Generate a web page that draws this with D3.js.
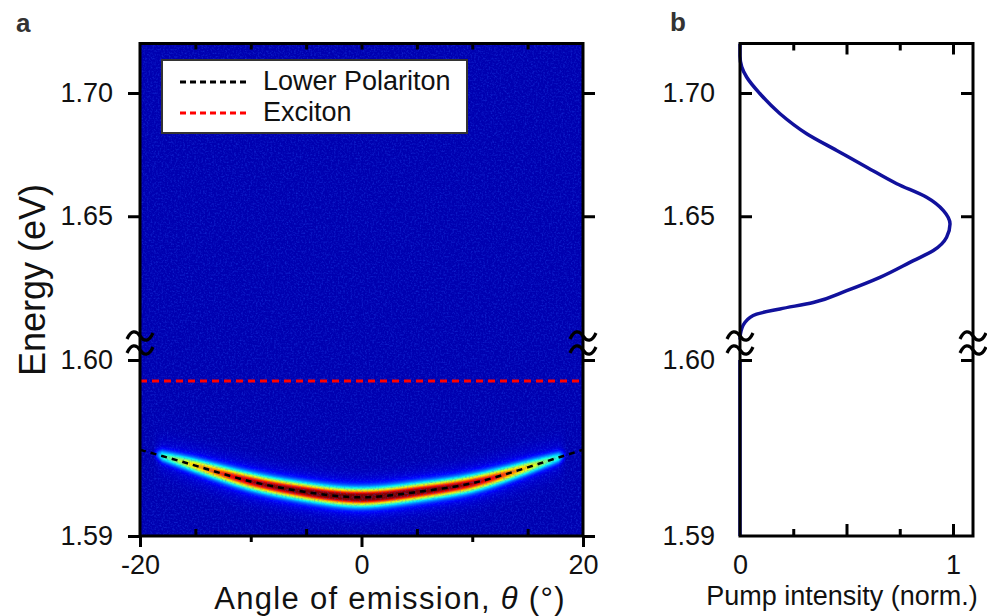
<!DOCTYPE html>
<html>
<head>
<meta charset="utf-8">
<script src="https://cdn.jsdelivr.net/npm/d3@7"></script>
<style>
  html, body { margin: 0; padding: 0; background: #fff; }
  svg { display: block; font-family: "Liberation Sans", Arial, sans-serif; }
</style>
</head>
<body>
<svg id="chart" width="987" height="616"></svg>
<script>
// ---- Panel a: angle-resolved emission ----
const angles = [-20, -15, -10, -5, 0, 5, 10, 15, 20];
const lowerPolariton = [1.5949, 1.5940, 1.5931, 1.5925, 1.5922, 1.5925, 1.5930, 1.5939, 1.5949];
const excitonEnergy = 1.5988;
// peak colour value of the emission band along the dispersion
const bandAngles = [-20, -18.8, -18, -15, -12, -10, -5, 0, 5, 10, 12, 15, 17.8, 18.5, 20];
const bandPeak   = [0, 0, 0.34, 0.58, 0.74, 0.82, 0.90, 0.95, 0.90, 0.82, 0.74, 0.55, 0.32, 0, 0];
const angleLabelTicks = [-20, 0, 20];
const angleMidTicks = [-10, 10];
const angleMinorTicks = [-15, -5, 5, 15];
const energyTicksUpper = [1.65, 1.70];
const energyTicksLower = [1.59, 1.60];
const legendNames = ["Lower Polariton", "Exciton"];
const legendColors = ["#000000", "#ff0000"];

// ---- Panel b: pump spectrum ----
const pumpEnergy = [1.7200, 1.7150, 1.7106, 1.7065, 1.6997, 1.6916, 1.6835, 1.6767, 1.6699,
  1.6632, 1.6577, 1.6523, 1.6469, 1.6415, 1.6361, 1.6320, 1.6252, 1.6198, 1.6150, 1.6124,
  1.6103, 1.6069, 1.6022, 1.6000];
const pumpIntensity = [0, 0, 0.008, 0.031, 0.094, 0.188, 0.313, 0.454, 0.595,
  0.736, 0.876, 0.955, 0.986, 0.970, 0.908, 0.814, 0.657, 0.501, 0.344, 0.188,
  0.078, 0.023, 0.002, 0];
const pumpEnergyLow = [1.600, 1.590];
const pumpIntensityLow = [0, 0];
const pumpLabelTicks = [0, 1];
const pumpMajorTicks = [0.5, 1];
const pumpMinorTicks = [0.25, 0.75];

const svg = d3.select("#chart");
const FS = 27;
const plotTop = 43.5, plotBottom = 536;

// broken energy axis: upper and lower segments share the same pixel column
const yHigh = d3.scaleLinear().domain([1.60, 1.70]).range([339.5, 93]);
const yLow  = d3.scaleLinear().domain([1.59, 1.60]).range([plotBottom, 360]);
const xA = d3.scaleLinear().domain([-20, 20]).range([140, 583]);
const xB = d3.scaleLinear().domain([0, 1]).range([740, 953]);
const xBRight = 973;

// jet colour map
function jet(v) {
  const c = t => Math.max(0, Math.min(1, t));
  return [c(1.5 - Math.abs(4 * v - 3)), c(1.5 - Math.abs(4 * v - 2)), c(1.5 - Math.abs(4 * v - 1))];
}

const defs = svg.append("defs");
defs.append("clipPath").attr("id", "clipA").append("rect")
  .attr("x", xA(-20)).attr("y", plotTop).attr("width", xA(20) - xA(-20)).attr("height", plotBottom - plotTop);

// lower polariton curve (smooth), also used to place the emission band
const lpLine = d3.line().x(d => xA(d[0])).y(d => yLow(d[1])).curve(d3.curveNatural);
const lpData = angles.map((a, i) => [a, lowerPolariton[i]]);
const probe = svg.append("path").attr("d", lpLine(lpData)).attr("fill", "none").attr("stroke", "none");
const pNode = probe.node(), pLen = pNode.getTotalLength();
const sx = [], sy = [];
for (let s = 0; s <= 1200; s++) {
  const p = pNode.getPointAtLength(pLen * s / 1200);
  if (!sx.length || p.x > sx[sx.length - 1]) { sx.push(p.x); sy.push(p.y); }
}
probe.remove();
const lpYAt = d3.scaleLinear().domain(sx).range(sy).clamp(true);

// ---- heatmap ----
const peakAt = d3.scaleLinear().domain(bandAngles).range(bandPeak).clamp(true);
const hmW = Math.round(xA.range()[1] - xA.range()[0]);
const hmH = Math.round(plotBottom - plotTop);
const canvas = document.createElement("canvas");
canvas.width = hmW; canvas.height = hmH;
const ctx = canvas.getContext("2d");
const img = ctx.createImageData(hmW, hmH);
const bg = 0.048;
for (let i = 0; i < hmW; i++) {
  const X = xA.range()[0] + i + 0.5;
  const th = xA.invert(X);
  const lpY = lpYAt(X);
  const amp = peakAt(th);
  const sig = 3.0 + 2.9 * amp;
  for (let j = 0; j < hmH; j++) {
    const Y = plotTop + j + 0.5;
    const d = Y - lpY;
    let v = bg;
    if (amp > 0) {
      v += amp * Math.exp(-d * d / (2 * sig * sig)) + 0.12 * amp * Math.exp(-d * d / (2 * 12 * 12));
    }
    const col = jet(Math.min(v, 1));
    const k = (j * hmW + i) * 4;
    img.data[k] = col[0] * 255;
    img.data[k + 1] = col[1] * 255;
    img.data[k + 2] = col[2] * 255;
    img.data[k + 3] = 255;
  }
}
ctx.putImageData(img, 0, 0);
svg.append("image")
  .attr("x", xA.range()[0]).attr("y", plotTop)
  .attr("width", hmW).attr("height", hmH)
  .attr("preserveAspectRatio", "none")
  .attr("href", canvas.toDataURL());

// detector grain over the blue background
const grain = defs.append("filter").attr("id", "grain").attr("x", 0).attr("y", 0).attr("width", 1).attr("height", 1);
grain.append("feTurbulence").attr("type", "fractalNoise").attr("baseFrequency", 0.55).attr("numOctaves", 2).attr("seed", 3);
grain.append("feColorMatrix").attr("type", "matrix")
  .attr("values", "0 0 0 0 0.02  0 0 0 0 0.10  0 0 0 0 0.95  1.6 0 0 0 -0.72");
svg.append("rect").attr("clip-path", "url(#clipA)")
  .attr("x", xA(-20)).attr("y", plotTop).attr("width", xA(20) - xA(-20)).attr("height", plotBottom - plotTop)
  .attr("filter", "url(#grain)").attr("opacity", 0.55);

// exciton level
svg.append("line")
  .attr("x1", xA(-20)).attr("x2", xA(20))
  .attr("y1", yLow(excitonEnergy)).attr("y2", yLow(excitonEnergy))
  .attr("stroke", "#ff0000").attr("stroke-width", 3).attr("stroke-dasharray", "7,5");

// lower polariton fit
svg.append("path")
  .datum(lpData)
  .attr("fill", "none").attr("stroke", "#000").attr("stroke-width", 2.5)
  .attr("stroke-dasharray", "6,5")
  .attr("d", lpLine);

// legend
const lg = svg.append("g");
lg.append("rect").attr("x", 162).attr("y", 60).attr("width", 305).attr("height", 73)
  .attr("fill", "#fff").attr("stroke", "#333").attr("stroke-width", 2);
legendNames.forEach((n, i) => {
  const yy = 82 + i * 31;
  lg.append("line").attr("x1", 180).attr("x2", 248).attr("y1", yy).attr("y2", yy)
    .attr("stroke", legendColors[i]).attr("stroke-width", 3).attr("stroke-dasharray", "6,4");
  lg.append("text").attr("x", 263).attr("y", yy + 8).attr("font-size", FS).attr("fill", "#111").text(n);
});

// ---- axes helpers ----
function styleAxis(g) {
  g.select(".domain").remove();
  g.selectAll("line").attr("stroke", "#000").attr("stroke-width", 3);
  g.selectAll("text").attr("font-size", FS).attr("fill", "#111");
  g.attr("font-family", null).attr("font-size", null);
  return g;
}
const frame = (x0, x1) => svg.append("rect").attr("x", x0).attr("y", plotTop)
  .attr("width", x1 - x0).attr("height", plotBottom - plotTop)
  .attr("fill", "none").attr("stroke", "#000").attr("stroke-width", 3);

// Panel a axes (outward ticks on left/right/bottom)
frame(xA(-20), xA(20));
svg.append("g").attr("transform", `translate(${xA(-20)},0)`)
  .call(d3.axisLeft(yHigh).tickValues(energyTicksUpper).tickSize(12).tickPadding(15).tickFormat(d3.format(".2f")))
  .call(styleAxis);
svg.append("g").attr("transform", `translate(${xA(-20)},0)`)
  .call(d3.axisLeft(yLow).tickValues(energyTicksLower).tickSize(12).tickPadding(15).tickFormat(d3.format(".2f")))
  .call(styleAxis);
svg.append("g").attr("transform", `translate(${xA(20)},0)`)
  .call(d3.axisRight(yHigh).tickValues(energyTicksUpper).tickSize(12).tickFormat(""))
  .call(styleAxis);
svg.append("g").attr("transform", `translate(${xA(20)},0)`)
  .call(d3.axisRight(yLow).tickValues(energyTicksLower).tickSize(12).tickFormat(""))
  .call(styleAxis);
svg.append("g").attr("transform", `translate(0,${plotBottom})`)
  .call(d3.axisBottom(xA).tickValues(angleLabelTicks).tickSize(11).tickPadding(8).tickFormat(d => String(d)))
  .call(styleAxis);
svg.append("g").attr("transform", `translate(0,${plotBottom})`)
  .call(d3.axisBottom(xA).tickValues(angleMidTicks).tickSize(6).tickFormat(""))
  .call(styleAxis);
svg.append("g").attr("transform", `translate(0,${plotBottom})`)
  .call(d3.axisTop(xA).tickValues(angleMinorTicks).tickSize(7).tickFormat(""))
  .call(styleAxis);
svg.append("g").attr("transform", `translate(0,${plotTop})`)
  .call(d3.axisBottom(xA).tickValues(angleMinorTicks.concat(angleMidTicks, [0])).tickSize(6).tickFormat(""))
  .call(styleAxis);

// Panel b curve
const pumpLine = (ys) => d3.line().x(d => xB(d[0])).y(d => ys(d[1])).curve(d3.curveMonotoneY);
svg.append("path")
  .datum(pumpEnergy.map((e, i) => [pumpIntensity[i], e]))
  .attr("fill", "none").attr("stroke", "#11119c").attr("stroke-width", 3.5)
  .attr("stroke-linejoin", "round").attr("d", pumpLine(yHigh));
svg.append("path")
  .datum(pumpEnergyLow.map((e, i) => [pumpIntensityLow[i], e]))
  .attr("fill", "none").attr("stroke", "#11119c").attr("stroke-width", 3.5)
  .attr("d", pumpLine(yLow));

// Panel b axes (inward ticks)
frame(xB(0), xBRight);
svg.append("g").attr("transform", `translate(${xB(0)},0)`)
  .call(d3.axisLeft(yHigh).tickValues(energyTicksUpper).tickSize(0).tickPadding(25).tickFormat(d3.format(".2f")))
  .call(styleAxis);
svg.append("g").attr("transform", `translate(${xB(0)},0)`)
  .call(d3.axisLeft(yLow).tickValues(energyTicksLower).tickSize(0).tickPadding(25).tickFormat(d3.format(".2f")))
  .call(styleAxis);
svg.append("g").attr("transform", `translate(${xB(0)},0)`)
  .call(d3.axisRight(yHigh).tickValues(energyTicksUpper).tickSize(12).tickFormat(""))
  .call(styleAxis);
svg.append("g").attr("transform", `translate(${xB(0)},0)`)
  .call(d3.axisRight(yLow).tickValues([1.60]).tickSize(12).tickFormat(""))
  .call(styleAxis);
svg.append("g").attr("transform", `translate(${xBRight},0)`)
  .call(d3.axisLeft(yHigh).tickValues(energyTicksUpper).tickSize(12).tickFormat(""))
  .call(styleAxis);
svg.append("g").attr("transform", `translate(${xBRight},0)`)
  .call(d3.axisLeft(yLow).tickValues([1.60]).tickSize(12).tickFormat(""))
  .call(styleAxis);
svg.append("g").attr("transform", `translate(0,${plotBottom})`)
  .call(d3.axisBottom(xB).tickValues(pumpLabelTicks).tickSize(0).tickPadding(19).tickFormat(d => String(d)))
  .call(styleAxis);
svg.append("g").attr("transform", `translate(0,${plotBottom})`)
  .call(d3.axisTop(xB).tickValues(pumpMajorTicks).tickSize(12).tickFormat(""))
  .call(styleAxis);
svg.append("g").attr("transform", `translate(0,${plotBottom})`)
  .call(d3.axisTop(xB).tickValues(pumpMinorTicks).tickSize(7).tickFormat(""))
  .call(styleAxis);
svg.append("g").attr("transform", `translate(0,${plotTop})`)
  .call(d3.axisBottom(xB).tickValues(pumpMajorTicks).tickSize(11).tickFormat(""))
  .call(styleAxis);
svg.append("g").attr("transform", `translate(0,${plotTop})`)
  .call(d3.axisBottom(xB).tickValues(pumpMinorTicks).tickSize(7).tickFormat(""))
  .call(styleAxis);

// axis-break marks on each vertical axis
const tilde = "M-13,3 C-9,-6 -4,-6 0,0 S9,6 13,-3";
[xA(-20), xA(20), xB(0), xBRight].forEach(x => {
  [336, 350].forEach(y => {
    svg.append("path").attr("d", tilde).attr("transform", `translate(${x},${y})`)
      .attr("fill", "none").attr("stroke", "#000").attr("stroke-width", 3.2);
  });
});

// titles
svg.append("text").attr("transform", "translate(45,280) rotate(-90)")
  .attr("text-anchor", "middle").attr("font-size", 36).attr("fill", "#111").text("Energy (eV)");
const xt = svg.append("text").attr("x", 390).attr("y", 609).attr("text-anchor", "middle")
  .attr("font-size", 31).attr("letter-spacing", 1.3).attr("fill", "#111");
xt.append("tspan").text("Angle of emission, ");
xt.append("tspan").attr("font-style", "italic").text("θ");
xt.append("tspan").text(" (°)");
svg.append("text").attr("x", 842).attr("y", 605).attr("text-anchor", "middle")
  .attr("font-size", FS).attr("fill", "#111").text("Pump intensity (norm.)");

// panel letters
svg.append("text").attr("x", 16).attr("y", 32).attr("font-size", 26).attr("font-weight", "bold")
  .attr("fill", "#333").text("a");
svg.append("text").attr("x", 670).attr("y", 31).attr("font-size", 26).attr("font-weight", "bold")
  .attr("fill", "#333").text("b");
</script>
</body>
</html>
